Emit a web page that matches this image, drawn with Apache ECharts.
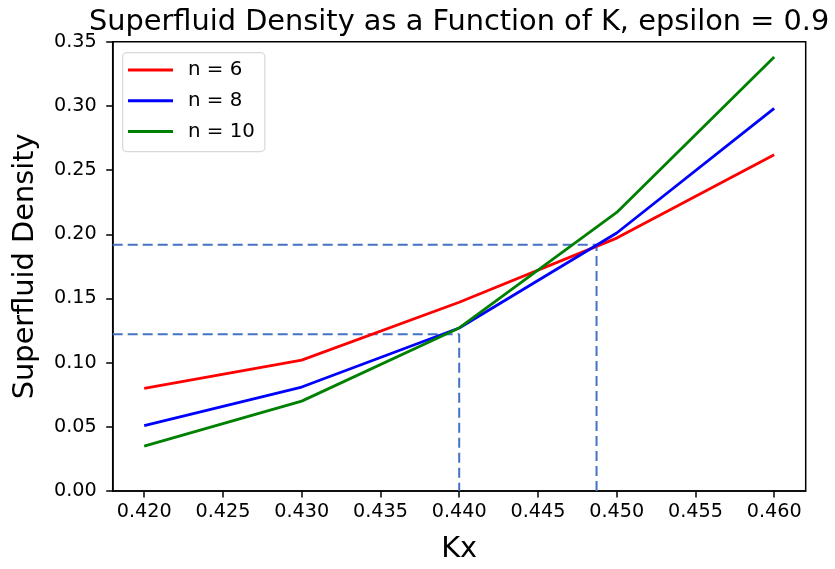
<!DOCTYPE html>
<html>
<head>
<meta charset="utf-8">
<script src="https://cdn.jsdelivr.net/npm/echarts@6/dist/echarts.min.js"></script>
<style>html,body{margin:0;padding:0;background:#fff}#c{width:835px;height:569px}</style>
</head>
<body>
<div id="c"></div>
<script>
const kx = [0.42, 0.43, 0.44, 0.45, 0.46];
const n6 = [0.080, 0.102, 0.147, 0.197, 0.262];
const n8 = [0.051, 0.081, 0.127, 0.201, 0.298];
const n10 = [0.035, 0.070, 0.127, 0.217, 0.338];
const seriesNames = ['n = 6', 'n = 8', 'n = 10'];
const xTicks = [0.42, 0.425, 0.43, 0.435, 0.44, 0.445, 0.45, 0.455, 0.46];
// dashed guide lines: [x, y] corners
const guide1 = [[0.418, 0.1222], [0.44, 0.1222], [0.44, 0]];
const guide2 = [[0.418, 0.1918], [0.44872, 0.1918], [0.44872, 0]];

const FONT = 'DejaVu Sans';
const pair = (xs, ys) => xs.map((x, i) => [x, ys[i]]);

const chart = echarts.init(document.getElementById('c'), null, {renderer: 'canvas'});
chart.setOption({
  animation: false,
  backgroundColor: '#fff',
  title: {
    text: 'Superfluid Density as a Function of K, epsilon = 0.9',
    left: 84, top: 3,
    textStyle: {fontFamily: FONT, fontSize: 28.8, fontWeight: 'normal', color: '#000'}
  },
  grid: {left: 112.7, right: 29.3, top: 41.7, bottom: 76.3, show: true, borderColor: '#000', borderWidth: 1.5, containLabel: false},
  legend: {
    data: seriesNames,
    orient: 'vertical',
    left: 122.7, top: 52.7,
    icon: 'path://M0,0L30,0L30,2L0,2Z',
    symbolKeepAspect: true,
    itemWidth: 45, itemHeight: 20, itemGap: 10.8,
    padding: [7.3, 10, 10, 5.3],
    backgroundColor: '#fff',
    borderColor: '#d8d8d8', borderWidth: 1.2, borderRadius: 4,
    textStyle: {fontFamily: FONT, fontSize: 19.8, color: '#000', padding: [0, 0, 0, 10], lineHeight: 20}
  },
  xAxis: {
    type: 'value', min: 0.418, max: 0.462,
    name: 'Kx', nameLocation: 'middle', nameGap: 44,
    nameTextStyle: {fontFamily: FONT, fontSize: 28.8, color: '#000'},
    axisLine: {show: true, onZero: false, lineStyle: {color: '#000', width: 1.5}},
    axisTick: {show: true, length: 6.5, lineStyle: {color: '#000', width: 1.5}, customValues: xTicks},
    axisLabel: {fontFamily: FONT, fontSize: 19.2, color: '#000', margin: 12, customValues: xTicks, formatter: v => v.toFixed(3)},
    splitLine: {show: false}
  },
  yAxis: {
    type: 'value', min: 0, max: 0.35, interval: 0.05,
    name: 'Superfluid Density', nameLocation: 'middle', nameGap: 73,
    nameTextStyle: {fontFamily: FONT, fontSize: 28.8, color: '#000'},
    axisLine: {show: true, onZero: false, lineStyle: {color: '#000', width: 1.5}},
    axisTick: {show: true, length: 6.5, lineStyle: {color: '#000', width: 1.5}},
    axisLabel: {fontFamily: FONT, fontSize: 19.2, color: '#000', margin: 16, formatter: v => v.toFixed(2)},
    splitLine: {show: false}
  },
  series: [
    {type: 'line', name: 'guide1', data: guide1, symbol: 'none', silent: true, z: 1,
     lineStyle: {color: '#4472C4', width: 2, type: [10, 5]}},
    {type: 'line', name: 'guide2', data: guide2, symbol: 'none', silent: true, z: 1,
     lineStyle: {color: '#4472C4', width: 2, type: [10, 5]}},
    {type: 'line', name: seriesNames[0], data: pair(kx, n6), symbol: 'none', z: 3,
     itemStyle: {color: '#ff0000'}, lineStyle: {color: '#ff0000', width: 2.8}},
    {type: 'line', name: seriesNames[1], data: pair(kx, n8), symbol: 'none', z: 3,
     itemStyle: {color: '#0000ff'}, lineStyle: {color: '#0000ff', width: 2.8}},
    {type: 'line', name: seriesNames[2], data: pair(kx, n10), symbol: 'none', z: 3,
     itemStyle: {color: '#008000'}, lineStyle: {color: '#008000', width: 2.8}}
  ]
});
</script>
</body>
</html>
